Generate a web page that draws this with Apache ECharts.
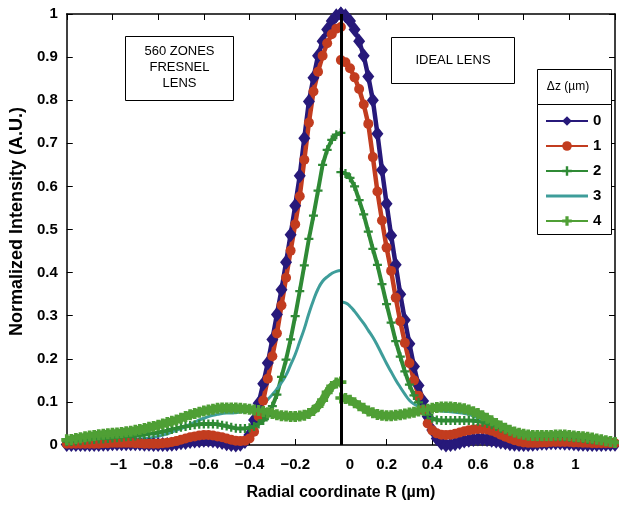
<!DOCTYPE html>
<html>
<head>
<meta charset="utf-8">
<script src="https://cdn.jsdelivr.net/npm/echarts@6/dist/echarts.min.js"></script>
<style>
  html, body { margin: 0; padding: 0; background: #fff; }
  #chart { width: 619px; height: 507px; }
</style>
</head>
<body>
<div id="chart"></div>
<script>
// sampling grid in |R| (um), left side = Fresnel lens, right side = ideal lens
const R_STEP = 0.02;
const radii = Array.from({ length: 61 }, (_, i) => +(i * R_STEP).toFixed(2));

const seriesNames = ['0', '1', '2', '3', '4'];
const xTickLabels = ['\u22121', '\u22120.8', '\u22120.6', '\u22120.4', '\u22120.2', '0', '0.2', '0.4', '0.6', '0.8', '1'];

// dz = 0
const blueLeft = [1.000, 0.996, 0.984, 0.964, 0.937, 0.903, 0.852, 0.797, 0.712, 0.625, 0.555, 0.488, 0.424, 0.360, 0.303, 0.245, 0.190, 0.142, 0.097, 0.058, 0.024, 0.008, 0.002, 0.000, 0.001, 0.003, 0.006, 0.008, 0.010, 0.011, 0.011, 0.010, 0.009, 0.008, 0.006, 0.005, 0.003, 0.002, 0.001, 0.001, 0.001, 0.001, 0.002, 0.002, 0.003, 0.003, 0.003, 0.003, 0.003, 0.003, 0.003, 0.002, 0.002, 0.001, 0.001, 0.001, 0.001, 0.001, 0.001, 0.001, 0.001];
const blueRight = [1.000, 0.996, 0.984, 0.964, 0.937, 0.903, 0.855, 0.800, 0.722, 0.638, 0.560, 0.486, 0.418, 0.350, 0.290, 0.235, 0.182, 0.138, 0.102, 0.066, 0.035, 0.015, 0.004, 0.000, 0.001, 0.003, 0.006, 0.009, 0.011, 0.013, 0.014, 0.014, 0.013, 0.011, 0.009, 0.007, 0.005, 0.003, 0.002, 0.001, 0.001, 0.001, 0.002, 0.003, 0.004, 0.004, 0.005, 0.005, 0.005, 0.004, 0.004, 0.003, 0.002, 0.002, 0.001, 0.001, 0.001, 0.001, 0.002, 0.002, 0.002];
// dz = 1
const redLeft = [0.970, 0.966, 0.953, 0.932, 0.903, 0.866, 0.820, 0.748, 0.662, 0.577, 0.512, 0.451, 0.388, 0.324, 0.259, 0.206, 0.154, 0.103, 0.066, 0.031, 0.015, 0.010, 0.009, 0.010, 0.012, 0.015, 0.018, 0.020, 0.022, 0.023, 0.023, 0.022, 0.020, 0.018, 0.015, 0.012, 0.009, 0.007, 0.005, 0.004, 0.003, 0.003, 0.003, 0.003, 0.004, 0.004, 0.005, 0.005, 0.005, 0.005, 0.005, 0.004, 0.004, 0.003, 0.003, 0.003, 0.003, 0.003, 0.003, 0.003, 0.003];
const redRight = [0.893, 0.888, 0.874, 0.853, 0.826, 0.790, 0.745, 0.668, 0.588, 0.521, 0.458, 0.404, 0.342, 0.287, 0.237, 0.190, 0.150, 0.114, 0.081, 0.050, 0.034, 0.027, 0.024, 0.023, 0.024, 0.026, 0.029, 0.032, 0.034, 0.036, 0.037, 0.037, 0.036, 0.033, 0.029, 0.024, 0.019, 0.015, 0.011, 0.008, 0.006, 0.005, 0.005, 0.005, 0.006, 0.006, 0.007, 0.007, 0.007, 0.007, 0.007, 0.006, 0.006, 0.005, 0.005, 0.004, 0.004, 0.004, 0.004, 0.004, 0.004];
// dz = 2
const green2Left = [0.724, 0.720, 0.708, 0.685, 0.650, 0.590, 0.532, 0.478, 0.417, 0.357, 0.299, 0.245, 0.198, 0.158, 0.117, 0.090, 0.068, 0.057, 0.049, 0.043, 0.040, 0.038, 0.038, 0.039, 0.041, 0.044, 0.046, 0.048, 0.049, 0.049, 0.049, 0.048, 0.047, 0.045, 0.043, 0.041, 0.038, 0.036, 0.033, 0.031, 0.029, 0.027, 0.026, 0.024, 0.023, 0.021, 0.020, 0.019, 0.018, 0.017, 0.016, 0.015, 0.014, 0.014, 0.013, 0.012, 0.011, 0.010, 0.009, 0.008, 0.008];
const green2Right = [0.633, 0.630, 0.620, 0.600, 0.568, 0.535, 0.495, 0.455, 0.418, 0.373, 0.327, 0.284, 0.241, 0.205, 0.171, 0.140, 0.115, 0.099, 0.083, 0.070, 0.062, 0.058, 0.057, 0.057, 0.057, 0.057, 0.057, 0.057, 0.057, 0.056, 0.055, 0.053, 0.050, 0.047, 0.043, 0.039, 0.035, 0.031, 0.028, 0.025, 0.023, 0.021, 0.020, 0.019, 0.019, 0.019, 0.019, 0.019, 0.019, 0.019, 0.018, 0.017, 0.016, 0.015, 0.013, 0.012, 0.011, 0.010, 0.009, 0.008, 0.007];
// dz = 3
const tealLeft = [0.405, 0.403, 0.398, 0.390, 0.380, 0.362, 0.336, 0.305, 0.270, 0.240, 0.210, 0.186, 0.162, 0.145, 0.130, 0.117, 0.106, 0.097, 0.090, 0.085, 0.081, 0.078, 0.077, 0.075, 0.074, 0.074, 0.073, 0.071, 0.069, 0.066, 0.062, 0.058, 0.053, 0.048, 0.043, 0.038, 0.034, 0.030, 0.026, 0.023, 0.020, 0.018, 0.016, 0.015, 0.014, 0.013, 0.013, 0.013, 0.013, 0.013, 0.013, 0.013, 0.012, 0.012, 0.012, 0.011, 0.011, 0.010, 0.010, 0.010, 0.010];
const tealRight = [0.332, 0.330, 0.322, 0.310, 0.296, 0.282, 0.266, 0.250, 0.231, 0.210, 0.189, 0.170, 0.151, 0.134, 0.118, 0.104, 0.095, 0.090, 0.087, 0.084, 0.081, 0.080, 0.079, 0.078, 0.077, 0.076, 0.075, 0.073, 0.071, 0.067, 0.063, 0.058, 0.052, 0.046, 0.040, 0.035, 0.030, 0.026, 0.022, 0.019, 0.017, 0.015, 0.014, 0.013, 0.013, 0.013, 0.013, 0.013, 0.013, 0.013, 0.013, 0.012, 0.012, 0.012, 0.011, 0.011, 0.011, 0.010, 0.010, 0.010, 0.010];
// dz = 4
const green4Left = [0.146, 0.144, 0.136, 0.122, 0.104, 0.090, 0.080, 0.073, 0.069, 0.067, 0.066, 0.066, 0.067, 0.068, 0.070, 0.073, 0.075, 0.078, 0.080, 0.081, 0.083, 0.084, 0.085, 0.086, 0.086, 0.086, 0.086, 0.085, 0.083, 0.081, 0.079, 0.076, 0.073, 0.070, 0.066, 0.062, 0.058, 0.055, 0.052, 0.049, 0.046, 0.043, 0.041, 0.038, 0.036, 0.034, 0.032, 0.031, 0.029, 0.028, 0.027, 0.026, 0.025, 0.024, 0.022, 0.021, 0.019, 0.017, 0.015, 0.013, 0.012];
const green4Right = [0.109, 0.108, 0.104, 0.098, 0.091, 0.085, 0.079, 0.075, 0.071, 0.069, 0.068, 0.068, 0.069, 0.070, 0.072, 0.074, 0.076, 0.079, 0.081, 0.083, 0.085, 0.087, 0.088, 0.088, 0.088, 0.087, 0.086, 0.084, 0.081, 0.077, 0.073, 0.068, 0.062, 0.056, 0.050, 0.044, 0.039, 0.034, 0.030, 0.027, 0.025, 0.023, 0.022, 0.022, 0.022, 0.022, 0.022, 0.023, 0.023, 0.023, 0.022, 0.021, 0.020, 0.019, 0.018, 0.016, 0.014, 0.012, 0.010, 0.008, 0.006];

const curves = [
  [blueLeft, blueRight],
  [redLeft, redRight],
  [green2Left, green2Right],
  [tealLeft, tealRight],
  [green4Left, green4Right],
];

const FONT = '"Liberation Sans", Arial, sans-serif';
const STAR = 'path://M3 0H5V3H8V5H5V8H3V5H0V3H3Z';
const PLUS = 'path://M3 0H6V3H9V6H6V9H3V6H0V3H3Z';
const BAR = 'path://M0 0H42V3H0Z';

const looks = [
  { color: '#27197a', symbol: 'diamond', size: [12, 15], width: 4.5 },
  { color: '#c23c1f', symbol: 'circle', size: 10, width: 4.5 },
  { color: '#2f8a35', symbol: STAR, size: 9, width: 4 },
  { color: '#3e9d9a', symbol: 'none', size: 0, width: 3 },
  { color: '#4f9f35', symbol: PLUS, size: 11, width: 8 },
];

// left half then a break, then right half
const buildData = function (left, right) {
  const out = [];
  for (let i = radii.length - 1; i >= 0; i--) {
    out.push([-radii[i], left[i]]);
  }
  out.push([0, '-']);
  for (let i = 0; i < radii.length; i++) {
    out.push([radii[i], right[i]]);
  }
  return out;
};

const xLabel = function (v) {
  const k = Math.round((v + 1) / 0.2);
  if (k < 0 || k > 10) return '';
  const txt = xTickLabels[k];
  if (txt === '0') return '{z|0}';
  if (txt === '1' || txt === '\u22121') return '{o|' + txt + '}';
  return txt;
};

const chartDom = document.getElementById('chart');
const mychart = echarts.init(chartDom);

const labelFont = { fontFamily: FONT, fontWeight: 'bold', fontSize: 15, color: '#000' };
const axisLine = { show: true, onZero: false, lineStyle: { color: '#000', width: 1.5 } };
const tick = { show: true, inside: true, length: 6, lineStyle: { color: '#000', width: 1 } };

const series = seriesNames.map(function (name, idx) {
  const lk = looks[idx];
  return {
    name: name,
    type: 'line',
    data: buildData(curves[idx][0], curves[idx][1]),
    symbol: lk.symbol,
    symbolSize: lk.size,
    showSymbol: lk.symbol !== 'none',
    showAllSymbol: true,
    smooth: lk.symbol === 'none',
    sampling: null,
    connectNulls: false,
    itemStyle: { color: lk.color, borderWidth: 0 },
    lineStyle: { color: lk.color, width: lk.width },
    emphasis: { disabled: true },
  };
});

series.push({
  name: 'divider',
  type: 'line',
  data: [],
  z: 10,
  markLine: {
    silent: true,
    symbol: 'none',
    label: { show: false },
    lineStyle: { color: '#000', width: 3, type: 'solid' },
    data: [{ xAxis: 0 }],
  },
});

const legendData = seriesNames.map(function (name, idx) {
  return looks[idx].symbol === 'none' ? { name: name, icon: BAR } : { name: name };
});

const option = {
  animation: false,
  backgroundColor: '#fff',
  grid: { left: 65, right: 4, top: 14, bottom: 62 },
  xAxis: [
    {
      type: 'value',
      min: -1.2,
      max: 1.2,
      interval: 0.2,
      axisLine: axisLine,
      axisTick: tick,
      splitLine: { show: false },
      axisLabel: {
        margin: 12,
        formatter: xLabel,
        ...labelFont,
        rich: {
          z: { ...labelFont, padding: [0, 0, 0, 18] },
          o: { ...labelFont, padding: [0, 0, 0, 12] },
        },
      },
      name: 'Radial coordinate R (\u00b5m)',
      nameLocation: 'middle',
      nameGap: 40,
      nameTextStyle: { ...labelFont, fontSize: 16 },
    },
    {
      type: 'value',
      position: 'top',
      min: -1.2,
      max: 1.2,
      interval: 0.2,
      axisLine: axisLine,
      axisTick: tick,
      axisLabel: { show: false },
      splitLine: { show: false },
    },
  ],
  yAxis: [
    {
      type: 'value',
      min: 0,
      max: 1,
      interval: 0.1,
      axisLine: axisLine,
      axisTick: tick,
      splitLine: { show: false },
      axisLabel: {
        margin: 9,
        formatter: (v) => String(+v.toFixed(1)),
        ...labelFont,
      },
      name: 'Normalized Intensity (A.U.)',
      nameLocation: 'middle',
      nameGap: 40,
      nameTextStyle: { ...labelFont, fontSize: 18, padding: [0, 0, 0, 16] },
    },
    {
      type: 'value',
      position: 'right',
      min: 0,
      max: 1,
      interval: 0.1,
      axisLine: axisLine,
      axisTick: tick,
      axisLabel: { show: false },
      splitLine: { show: false },
    },
  ],
  legend: {
    data: legendData,
    orient: 'vertical',
    left: 545,
    top: 113,
    padding: 0,
    itemGap: 9,
    itemWidth: 42,
    itemHeight: 12,
    selectedMode: false,
    textStyle: { ...labelFont, lineHeight: 16 },
  },
  graphic: [
    { type: 'rect', z: 3, shape: { x: 125.5, y: 36.5, width: 108, height: 64 }, style: { fill: '#fff', stroke: '#000', lineWidth: 1 } },
    { type: 'text', z: 4, style: { x: 179.5, y: 67, text: '560 ZONES\nFRESNEL\nLENS', align: 'center', verticalAlign: 'middle', lineHeight: 16, font: '13px ' + FONT, fill: '#000' } },
    { type: 'rect', z: 3, shape: { x: 391.5, y: 37.5, width: 123, height: 46 }, style: { fill: '#fff', stroke: '#000', lineWidth: 1 } },
    { type: 'text', z: 4, style: { x: 453, y: 60.5, text: 'IDEAL LENS', align: 'center', verticalAlign: 'middle', font: '13px ' + FONT, fill: '#000' } },
    { type: 'rect', z: 3, shape: { x: 537.5, y: 69.5, width: 74, height: 35 }, style: { fill: '#fff', stroke: '#000', lineWidth: 1 } },
    { type: 'text', z: 4, style: { x: 568, y: 87, text: '\u0394z (\u00b5m)', align: 'center', verticalAlign: 'middle', font: '12px ' + FONT, fill: '#000' } },
    { type: 'rect', z: 3, shape: { x: 537.5, y: 104.5, width: 74, height: 130 }, style: { fill: '#fff', stroke: '#000', lineWidth: 1 } },
  ],
  series: series,
};

mychart.setOption(option);
</script>
</body>
</html>
